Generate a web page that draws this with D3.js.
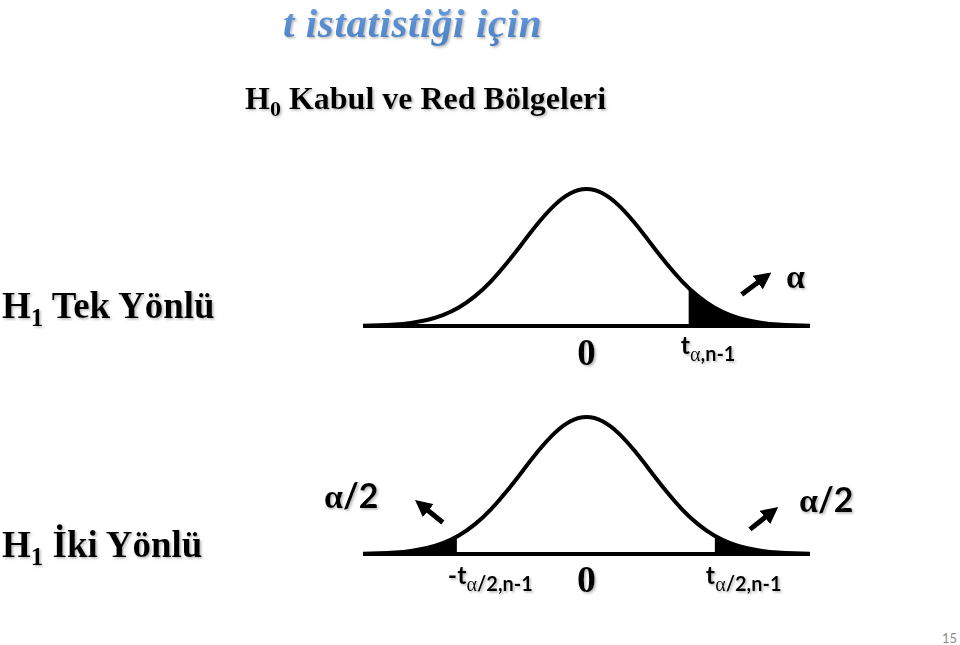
<!DOCTYPE html>
<html>
<head>
<meta charset="utf-8">
<script src="https://cdn.jsdelivr.net/npm/d3@7"></script>
<style>
  html, body { margin: 0; padding: 0; background: #fff; }
  svg { display: block; }
</style>
</head>
<body>
<svg id="chart" width="960" height="645"></svg>
<script>
// ---- Data ----
const zGrid = [-3.5,-3.25,-3,-2.75,-2.5,-2.25,-2,-1.75,-1.5,-1.25,-1,-0.75,-0.5,-0.25,0,
               0.25,0.5,0.75,1,1.25,1.5,1.75,2,2.25,2.5,2.75,3,3.25,3.5];
const density = [0.0022,0.0051,0.0111,0.0228,0.0439,0.0796,0.1353,0.2163,0.3247,0.4578,0.6065,0.7548,0.8825,0.9692,1,
                 0.9692,0.8825,0.7548,0.6065,0.4578,0.3247,0.2163,0.1353,0.0796,0.0439,0.0228,0.0111,0.0051,0.0022];
const oneTailCritical = [1.6];          // t_{α,n-1}
const twoTailCritical = [-2.03, 2.01];  // ±t_{α/2,n-1}
const titleText = "t istatistiği için";
const subtitleMain = ["H", "0", " Kabul ve Red Bölgeleri"];
const rowLabels = [["H", "1", " Tek Yönlü"], ["H", "1", " İki Yönlü"]];
const centerLabel = "0";
const pageNumber = "15";
// arrows: [tailZ, tailDensity, tipZ, tipDensity]
const arrowsTop = [[2.43, 0.23, 2.92, 0.40]];
const arrowsBottom = [[-2.25, 0.23, -2.7, 0.40], [2.56, 0.18, 3.02, 0.35]];

// ---- Drawing ----
const svg = d3.select("#chart");
const defs = svg.append("defs");

const shadow = defs.append("filter").attr("id", "shadow")
  .attr("x", "-10%").attr("y", "-20%").attr("width", "130%").attr("height", "160%");
shadow.append("feDropShadow").attr("dx", 1.5).attr("dy", 1.5)
  .attr("stdDeviation", 1).attr("flood-color", "#888").attr("flood-opacity", 0.6);

const grad = defs.append("linearGradient").attr("id", "titleGrad")
  .attr("x1", 0).attr("y1", 0).attr("x2", 0).attr("y2", 1);
grad.append("stop").attr("offset", "0%").attr("stop-color", "#6a9fe0");
grad.append("stop").attr("offset", "100%").attr("stop-color", "#4a7fc4");

defs.append("marker").attr("id", "arrowHead")
  .attr("viewBox", "0 0 10 10").attr("refX", 2).attr("refY", 5)
  .attr("markerWidth", 3.4).attr("markerHeight", 3.4).attr("orient", "auto")
  .attr("markerUnits", "strokeWidth")
  .append("path").attr("d", "M0,0 L10,5 L0,10 Z").attr("fill", "#000");

const serif = "'Liberation Serif','Times New Roman',serif";
const sans = "Lato,'Open Sans',sans-serif";

// Title
svg.append("text").attr("x", 283).attr("y", 37)
  .attr("font-family", serif).attr("font-style", "italic").attr("font-weight", "bold")
  .attr("font-size", 41).attr("letter-spacing", 0.6)
  .attr("fill", "url(#titleGrad)").attr("filter", "url(#shadow)")
  .text(titleText);

function subText(x, y, parts, size, subSize) {
  const t = svg.append("text").attr("x", x).attr("y", y)
    .attr("font-family", serif).attr("font-weight", "bold").attr("font-size", size)
    .attr("fill", "#000").attr("filter", "url(#shadow)");
  t.append("tspan").text(parts[0]);
  t.append("tspan").attr("dy", size * 0.22).attr("font-size", subSize).text(parts[1]);
  t.append("tspan").attr("dy", -size * 0.22).text(parts[2]);
  return t;
}
subText(245, 109, subtitleMain, 32, 22);
subText(2, 318, rowLabels[0], 37, 25);
subText(2, 557, rowLabels[1], 37, 25);

// Scales
const x = d3.scaleLinear().domain([-3.5, 3.5]).range([363, 810]);
const yTop = d3.scaleLinear().domain([0, 1]).range([326, 189]);
const yBot = d3.scaleLinear().domain([0, 1]).range([554, 417]);
const pts = zGrid.map((z, i) => [z, density[i]]);

function drawPanel(y, shadedRanges, id) {
  const g = svg.append("g");
  shadedRanges.forEach((r, i) => {
    const cid = id + "clip" + i;
    defs.append("clipPath").attr("id", cid).append("rect")
      .attr("x", x(r[0])).attr("y", y(1.1))
      .attr("width", x(r[1]) - x(r[0])).attr("height", y(0) - y(1.1));
    g.append("path").datum(pts)
      .attr("d", d3.area().x(d => x(d[0])).y0(y(0)).y1(d => y(d[1])).curve(d3.curveNatural))
      .attr("fill", "#000").attr("clip-path", `url(#${cid})`);
  });
  g.append("line").attr("x1", x(-3.5)).attr("x2", x(3.5))
    .attr("y1", y(0)).attr("y2", y(0)).attr("stroke", "#000").attr("stroke-width", 4);
  g.append("path").datum(pts)
    .attr("d", d3.line().x(d => x(d[0])).y(d => y(d[1])).curve(d3.curveNatural))
    .attr("fill", "none").attr("stroke", "#000").attr("stroke-width", 4);
}
drawPanel(yTop, [[oneTailCritical[0], 3.5]], "top");
drawPanel(yBot, [[-3.5, twoTailCritical[0]], [twoTailCritical[1], 3.5]], "bot");

function drawArrows(list, y) {
  list.forEach(a => {
    svg.append("line")
      .attr("x1", x(a[0])).attr("y1", y(a[1]))
      .attr("x2", x(a[2])).attr("y2", y(a[3]))
      .attr("stroke", "#000").attr("stroke-width", 5)
      .attr("marker-end", "url(#arrowHead)");
  });
}
// shorten arrows so the head tip lands at the target
drawArrows(arrowsTop.map(a => [a[0], a[1], a[0] + (a[2]-a[0])*0.6, a[1] + (a[3]-a[1])*0.6]), yTop);
drawArrows(arrowsBottom.map(a => [a[0], a[1], a[0] + (a[2]-a[0])*0.6, a[1] + (a[3]-a[1])*0.6]), yBot);

// Center zeros
svg.append("text").attr("x", x(0)).attr("y", 365).attr("text-anchor", "middle")
  .attr("font-family", serif).attr("font-weight", "bold").attr("font-size", 37)
  .attr("filter", "url(#shadow)").text(centerLabel);
svg.append("text").attr("x", x(0)).attr("y", 592).attr("text-anchor", "middle")
  .attr("font-family", serif).attr("font-weight", "bold").attr("font-size", 38)
  .attr("filter", "url(#shadow)").text(centerLabel);

// Critical value labels
function critLabel(xp, y, prefix, sub, size, subSize) {
  const t = svg.append("text").attr("x", xp).attr("y", y)
    .attr("font-family", sans).attr("font-weight", "bold").attr("font-size", size)
    .attr("filter", "url(#shadow)");
  t.append("tspan").text(prefix);
  const s = t.append("tspan").attr("dy", 7).attr("font-size", subSize);
  s.append("tspan").attr("font-family", serif).attr("font-weight", "normal").text("α");
  s.append("tspan").text(sub);
}
critLabel(x(oneTailCritical[0]) - 8, 354, "t", ",n-1", 25, 20);
critLabel(x(twoTailCritical[0]) - 9, 584, "-t", "/2,n-1", 25, 20);
critLabel(x(twoTailCritical[1]) - 9, 584, "t", "/2,n-1", 25, 20);

// alpha labels
function alphaLabel(xp, y, rest) {
  const t = svg.append("text").attr("x", xp).attr("y", y)
    .attr("font-size", 34).attr("filter", "url(#shadow)");
  t.append("tspan").attr("font-family", serif).attr("font-weight", "bold").text("α");
  if (rest) t.append("tspan").attr("font-family", sans).attr("font-weight", "bold").text(rest);
}
alphaLabel(786, 288, "");
alphaLabel(324, 508, "/2");
alphaLabel(799, 512, "/2");

// Page number
svg.append("text").attr("x", 957).attr("y", 643).attr("text-anchor", "end")
  .attr("font-family", sans).attr("font-size", 13).attr("fill", "#8c8c8c").text(pageNumber);
</script>
</body>
</html>
